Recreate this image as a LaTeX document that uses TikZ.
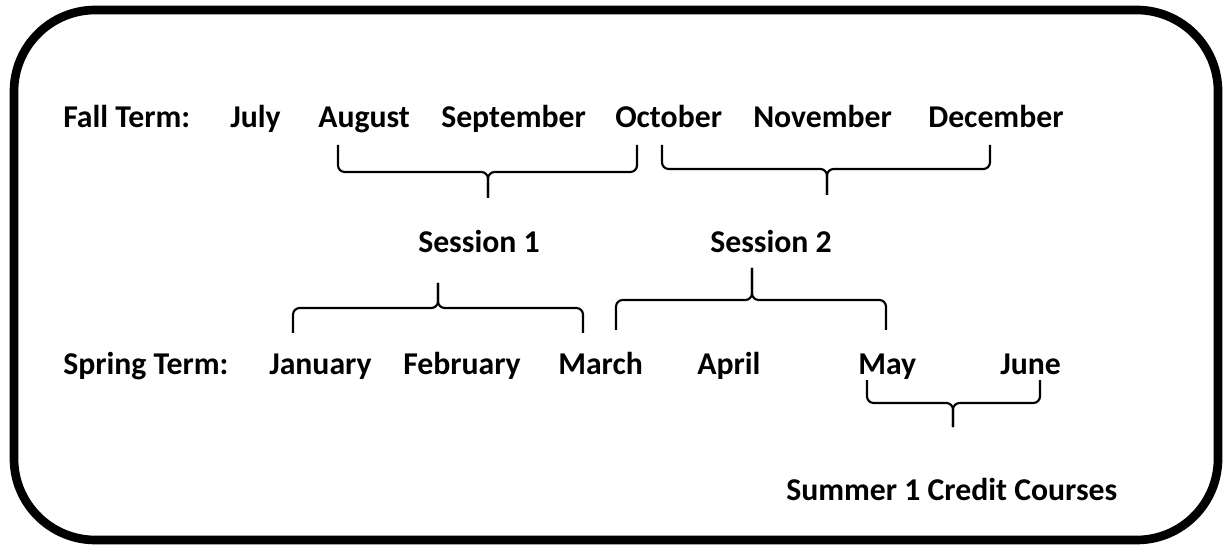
\documentclass[tikz,border=0pt]{standalone}
\usepackage{fontspec}
\setmainfont{Carlito}
\usetikzlibrary{positioning}
\tikzset{
  lbl/.style={anchor=base west,inner sep=0pt,
    font=\fontsize{23.8}{28}\selectfont\bfseries},
  brace/.style={line width=1.6pt,rounded corners=5pt},
  frame/.style={line width=6.5pt,rounded corners=61pt},
}
\begin{document}
\begin{tikzpicture}[x=0.75pt,y=-0.75pt]
  \useasboundingbox (0,0) rectangle (1226,548);
  \draw[frame] (14,10) rectangle (1218,540);
  % fall term row
  \node[lbl] (fall) at (63,128)  {Fall Term:};
  \node[lbl] (jul)  at (230,128) {July};
  \node[lbl] (aug)  at (318,128) {August};
  \node[lbl] (sep)  at (441,128) {September};
  \node[lbl] (oct)  at (615,128) {October};
  \node[lbl] (nov)  at (753,128) {November};
  \node[lbl] (dec)  at (928,128) {December};
  % sessions
  \node[lbl] (ses1) at (418,253) {Session 1};
  \node[lbl] (ses2) at (710,253) {Session 2};
  % spring term row
  \node[lbl] (spring) at (63,374) {Spring Term:};
  \node[lbl] (jan)  at (269,374) {January};
  \node[lbl] (feb)  at (403,374) {February};
  \node[lbl] (mar)  at (558,374) {March};
  \node[lbl] (apr)  at (697,374) {April};
  \node[lbl] (may)  at (858,374) {May};
  \node[lbl] (jun)  at (1000,374) {June};
  \node[lbl] (summer) at (786,500) {Summer 1 Credit Courses};
  % braces
  \draw[brace] (338,145) -- (338,172) -- (488,172) -- (488,198);
  \draw[brace] (637,145) -- (637,172) -- (488,172) -- (488,198);
  \draw[brace] (662,145) -- (662,169) -- (827,169) -- (827,195);
  \draw[brace] (990,145) -- (990,169) -- (827,169) -- (827,195);
  \draw[brace] (293,333) -- (293,308) -- (438,308) -- (438,283);
  \draw[brace] (583,333) -- (583,308) -- (438,308) -- (438,283);
  \draw[brace] (616,330) -- (616,300) -- (752,300) -- (752,268);
  \draw[brace] (886,330) -- (886,300) -- (752,300) -- (752,268);
  \draw[brace] (867,380) -- (867,403) -- (953,403) -- (953,427);
  \draw[brace] (1040,380) -- (1040,403) -- (953,403) -- (953,427);
\end{tikzpicture}
\end{document}
